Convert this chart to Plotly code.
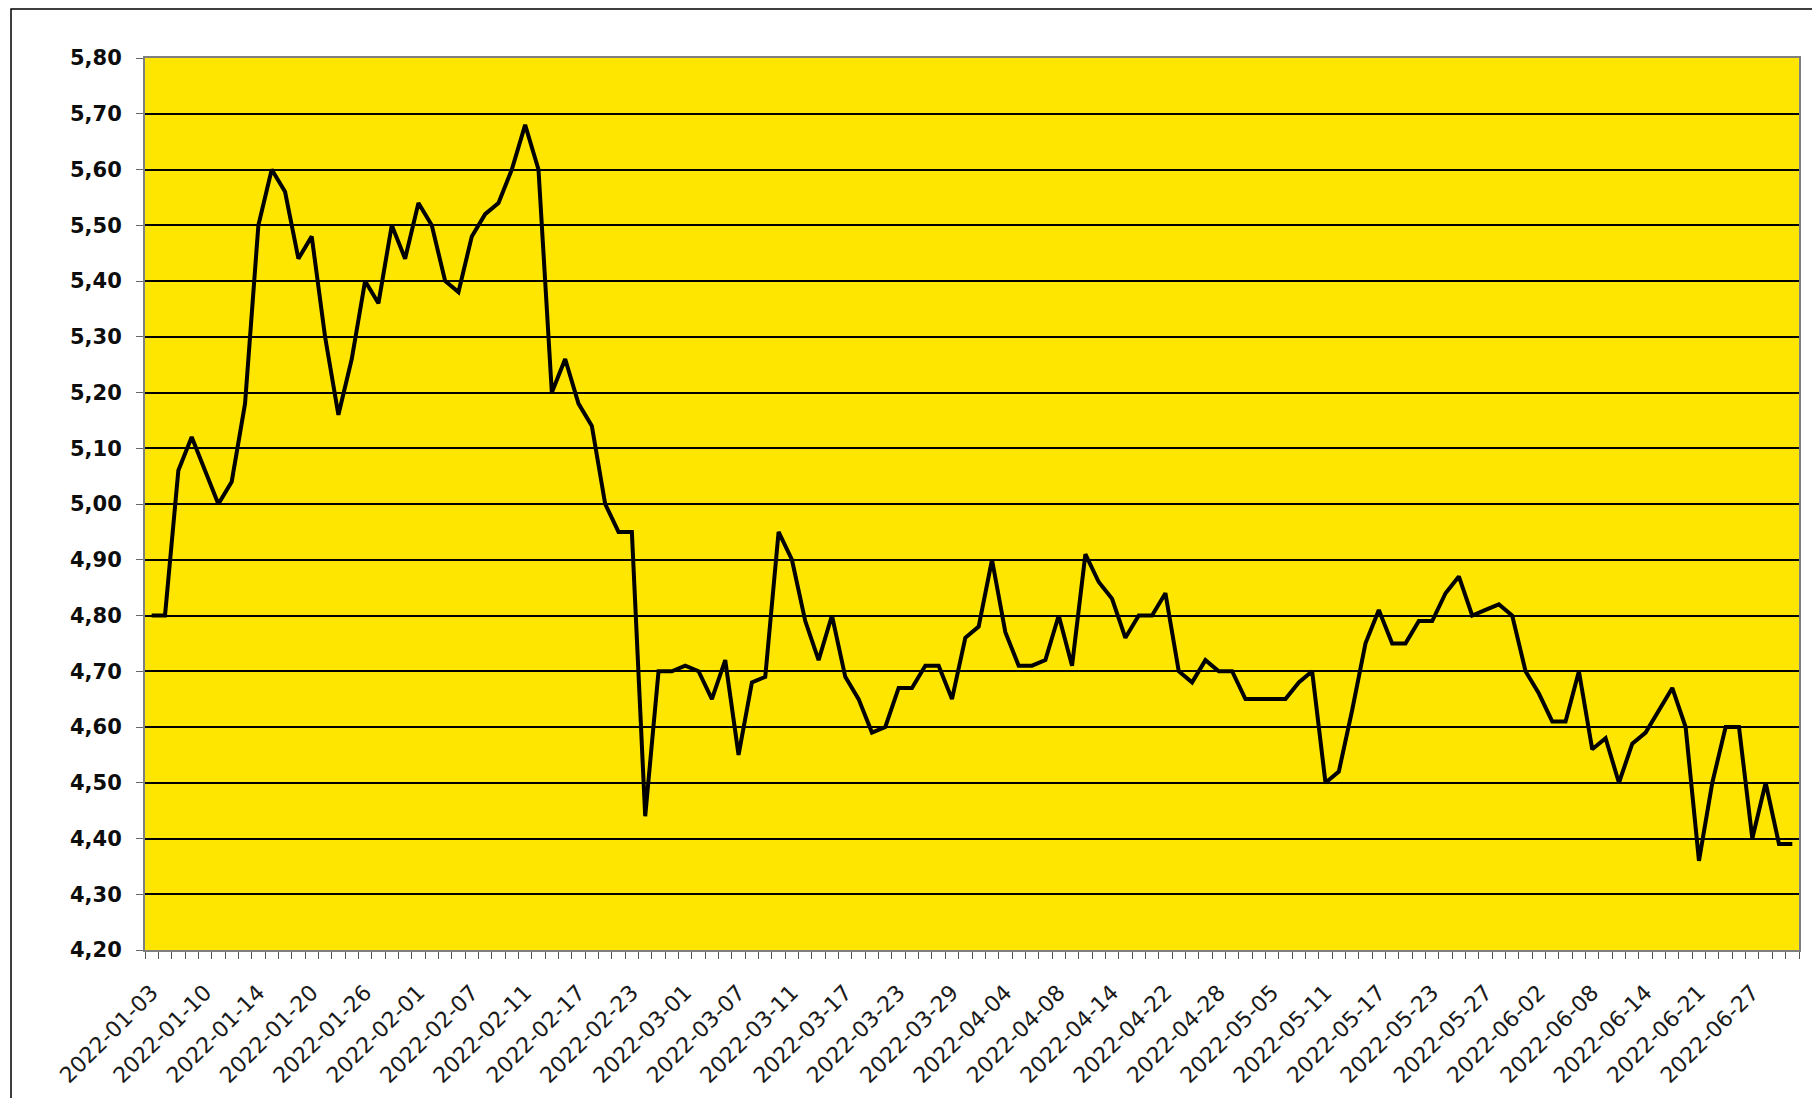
import plotly.graph_objects as go

# Trading days (category axis)
dates = [
    "2022-01-03", "2022-01-04", "2022-01-05", "2022-01-07", "2022-01-10", "2022-01-11", "2022-01-12", "2022-01-13",
    "2022-01-14", "2022-01-17", "2022-01-18", "2022-01-19", "2022-01-20", "2022-01-21", "2022-01-24", "2022-01-25",
    "2022-01-26", "2022-01-27", "2022-01-28", "2022-01-31",
    "2022-02-01", "2022-02-02", "2022-02-03", "2022-02-04", "2022-02-07", "2022-02-08", "2022-02-09", "2022-02-10",
    "2022-02-11", "2022-02-14", "2022-02-15", "2022-02-16", "2022-02-17", "2022-02-18", "2022-02-21", "2022-02-22",
    "2022-02-23", "2022-02-24", "2022-02-25", "2022-02-28",
    "2022-03-01", "2022-03-02", "2022-03-03", "2022-03-04", "2022-03-07", "2022-03-08", "2022-03-09", "2022-03-10",
    "2022-03-11", "2022-03-14", "2022-03-15", "2022-03-16", "2022-03-17", "2022-03-18", "2022-03-21", "2022-03-22",
    "2022-03-23", "2022-03-24", "2022-03-25", "2022-03-28", "2022-03-29", "2022-03-30", "2022-03-31",
    "2022-04-01", "2022-04-04", "2022-04-05", "2022-04-06", "2022-04-07", "2022-04-08", "2022-04-11", "2022-04-12",
    "2022-04-13", "2022-04-14", "2022-04-19", "2022-04-20", "2022-04-21", "2022-04-22", "2022-04-25", "2022-04-26",
    "2022-04-27", "2022-04-28", "2022-04-29",
    "2022-05-02", "2022-05-04", "2022-05-05", "2022-05-06", "2022-05-09", "2022-05-10", "2022-05-11", "2022-05-12",
    "2022-05-13", "2022-05-16", "2022-05-17", "2022-05-18", "2022-05-19", "2022-05-20", "2022-05-23", "2022-05-24",
    "2022-05-25", "2022-05-26", "2022-05-27", "2022-05-30", "2022-05-31",
    "2022-06-01", "2022-06-02", "2022-06-03", "2022-06-06", "2022-06-07", "2022-06-08", "2022-06-09", "2022-06-10",
    "2022-06-13", "2022-06-14", "2022-06-15", "2022-06-17", "2022-06-20", "2022-06-21", "2022-06-22", "2022-06-23",
    "2022-06-24", "2022-06-27", "2022-06-28", "2022-06-29", "2022-06-30",
]

values = [
    4.80, 4.80, 5.06, 5.12, 5.06, 5.00, 5.04, 5.18, 5.50, 5.60, 5.56, 5.44, 5.48, 5.30, 5.16, 5.26,
    5.40, 5.36, 5.50, 5.44, 5.54, 5.50, 5.40, 5.38, 5.48, 5.52, 5.54, 5.60, 5.68, 5.60, 5.20, 5.26,
    5.18, 5.14, 5.00, 4.95, 4.95, 4.44, 4.70, 4.70, 4.71, 4.70, 4.65, 4.72, 4.55, 4.68, 4.69, 4.95,
    4.90, 4.79, 4.72, 4.80, 4.69, 4.65, 4.59, 4.60, 4.67, 4.67, 4.71, 4.71, 4.65, 4.76, 4.78, 4.90,
    4.77, 4.71, 4.71, 4.72, 4.80, 4.71, 4.91, 4.86, 4.83, 4.76, 4.80, 4.80, 4.84, 4.70, 4.68, 4.72,
    4.70, 4.70, 4.65, 4.65, 4.65, 4.65, 4.68, 4.70, 4.50, 4.52, 4.63, 4.75, 4.81, 4.75, 4.75, 4.79,
    4.79, 4.84, 4.87, 4.80, 4.81, 4.82, 4.80, 4.70, 4.66, 4.61, 4.61, 4.70, 4.56, 4.58, 4.50, 4.57,
    4.59, 4.63, 4.67, 4.60, 4.36, 4.50, 4.60, 4.60, 4.40, 4.50, 4.39, 4.39,
]

label_step = 4
y_min, y_max, y_step = 4.20, 5.80, 0.10

idx = list(range(len(dates)))
tick_positions = idx[::label_step]
tick_labels = dates[::label_step]
boundaries = [i - 0.5 for i in range(len(dates) + 1)]

fig = go.Figure()
fig.add_trace(go.Scatter(
    x=idx, y=values, mode="lines",
    line=dict(color="#000000", width=4),
    hoverinfo="skip", showlegend=False,
))

W, H = 1812, 1090
ml, mr, mt, mb = 137, 21, 50, 148
pw = W - ml - mr
ph = H - mt - mb

# outer frame (black), extends past right and bottom edges
fx0 = (3 - ml) / pw
fy1 = (H - mb - 1) / ph
fig.add_shape(type="rect", xref="paper", yref="paper",
              x0=fx0, x1=1.2, y0=-0.5, y1=fy1,
              line=dict(color="#000000", width=1.5), layer="below")

fig.update_layout(
    width=W, height=H,
    margin=dict(l=ml, r=mr, t=mt, b=mb, autoexpand=False),
    paper_bgcolor="#FFFFFF",
    plot_bgcolor="#FFE600",
    separators=", ",
    showlegend=False,
)

fig.update_xaxes(
    range=[-0.5, len(dates) - 0.5],
    tickmode="array", tickvals=tick_positions, ticktext=tick_labels,
    tickangle=-45, ticks="", showgrid=False, zeroline=False,
    tickfont=dict(family="DejaVu Sans", size=22, color="#1a1a1a"),
    showline=True, linecolor="#7f7f7f", linewidth=2, mirror=True,
    minor=dict(tickvals=boundaries, ticks="outside", ticklen=7, tickcolor="#555555", tickwidth=1.2, showgrid=False),
    ticklabelstandoff=19,
)

fig.update_yaxes(
    range=[y_min, y_max], dtick=y_step, tick0=y_min, tickformat=".2f",
    showgrid=True, gridcolor="#000000", gridwidth=1.5,
    ticks="outside", ticklen=7, tickcolor="#666666", tickwidth=1.2,
    tickfont=dict(family="DejaVu Sans", size=21, color="#0d0d0d", weight="bold"),
    showline=True, linecolor="#7f7f7f", linewidth=2, mirror=True,
    zeroline=False, ticklabelstandoff=10,
)

fig.write_html("out.html")
